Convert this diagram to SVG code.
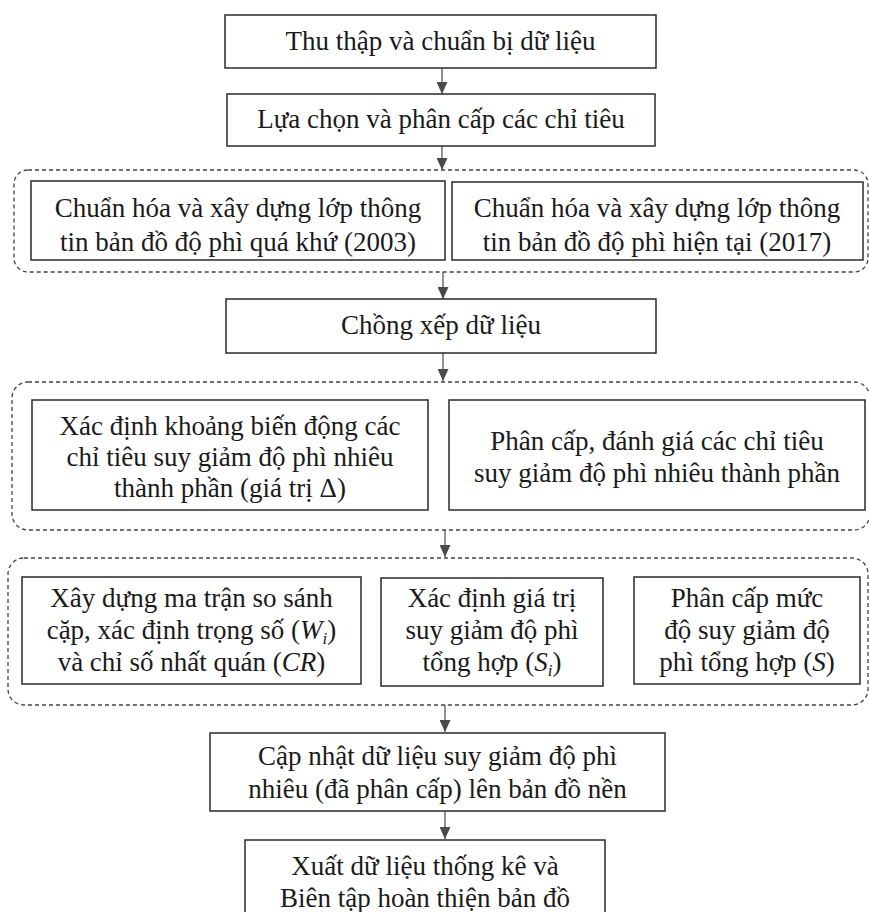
<svg xmlns="http://www.w3.org/2000/svg" width="869" height="912" viewBox="0 0 869 912">
<style>
.box{fill:#fff;stroke:#2a2a2a;stroke-width:1.5}
.grp{fill:none;stroke:#444;stroke-width:1.3;stroke-dasharray:4 3}
.t{font-family:"Liberation Serif","Times New Roman",serif;font-size:27px;fill:#1a1a1a;text-anchor:middle}
.it{font-style:italic}
.sub{font-size:17px;font-style:italic}
.ln{stroke:#4a4a4a;stroke-width:1.2;fill:none}
</style>
<defs>
<marker id="ah" viewBox="0 0 12 11" refX="12" refY="5.5" markerWidth="12" markerHeight="11" markerUnits="userSpaceOnUse" orient="auto">
<path d="M0,0 L12,5.5 L0,11 Z" fill="#4a4a4a"/>
</marker>
</defs>
<rect width="869" height="912" fill="#fff"/>
<g id="groups">
<rect id="g1" class="grp" x="14" y="170" width="854" height="102" rx="14"/>
<rect id="g2" class="grp" x="12" y="382" width="858" height="148" rx="16"/>
<rect id="g3" class="grp" x="8" y="558" width="860" height="147" rx="16"/>
</g>
<g id="connectors">
<line class="ln" x1="442" y1="68" x2="442" y2="94" marker-end="url(#ah)"/>
<line class="ln" x1="442" y1="146" x2="442" y2="170" marker-end="url(#ah)"/>
<line class="ln" x1="443" y1="272" x2="443" y2="299" marker-end="url(#ah)"/>
<line class="ln" x1="443" y1="353" x2="443" y2="381" marker-end="url(#ah)"/>
<line class="ln" x1="445" y1="530" x2="445" y2="557" marker-end="url(#ah)"/>
<line class="ln" x1="445" y1="705" x2="445" y2="732" marker-end="url(#ah)"/>
<line class="ln" x1="445" y1="811" x2="445" y2="839" marker-end="url(#ah)"/>
</g>
<g id="n1"><rect class="box" x="225" y="15" width="431" height="53"/>
<text class="t" x="440.5" y="50">Thu thập và chuẩn bị dữ liệu</text></g>
<g id="n2"><rect class="box" x="227" y="94" width="428" height="52"/>
<text class="t" x="441" y="128">Lựa chọn và phân cấp các chỉ tiêu</text></g>
<g id="n3"><rect class="box" x="31" y="181" width="414" height="79"/>
<text class="t" x="238" y="217">Chuẩn hóa và xây dựng lớp thông</text>
<text class="t" x="238" y="251">tin bản đồ độ phì quá khứ (2003)</text></g>
<g id="n4"><rect class="box" x="452" y="182" width="411" height="78"/>
<text class="t" x="657" y="217">Chuẩn hóa và xây dựng lớp thông</text>
<text class="t" x="657" y="251">tin bản đồ độ phì hiện tại (2017)</text></g>
<g id="n5"><rect class="box" x="226" y="299" width="430" height="54"/>
<text class="t" x="441" y="334">Chồng xếp dữ liệu</text></g>
<g id="n6"><rect class="box" x="32" y="400" width="396" height="110"/>
<text class="t" x="230" y="435">Xác định khoảng biến động các</text>
<text class="t" x="230" y="466">chỉ tiêu suy giảm độ phì nhiêu</text>
<text class="t" x="230" y="497">thành phần (giá trị Δ)</text></g>
<g id="n7"><rect class="box" x="449" y="400" width="416" height="110"/>
<text class="t" x="657" y="450">Phân cấp, đánh giá các chỉ tiêu</text>
<text class="t" x="657" y="482">suy giảm độ phì nhiêu thành phần</text></g>
<g id="n8"><rect class="box" x="22" y="577" width="339" height="107"/>
<text class="t" x="191.5" y="607">Xây dựng ma trận so sánh</text>
<text class="t" x="191.5" y="639">cặp, xác định trọng số (<tspan class="it">W</tspan><tspan class="sub" dy="5">i</tspan><tspan dy="-5">)</tspan></text>
<text class="t" x="191.5" y="671">và chỉ số nhất quán (<tspan class="it">CR</tspan>)</text></g>
<g id="n9"><rect class="box" x="381" y="578" width="222" height="108"/>
<text class="t" x="492" y="607">Xác định giá trị</text>
<text class="t" x="492" y="639">suy giảm độ phì</text>
<text class="t" x="492" y="671">tổng hợp (<tspan class="it">S</tspan><tspan class="sub" dy="5">i</tspan><tspan dy="-5">)</tspan></text></g>
<g id="n10"><rect class="box" x="634" y="577" width="226" height="107"/>
<text class="t" x="747" y="607">Phân cấp mức</text>
<text class="t" x="747" y="639">độ suy giảm độ</text>
<text class="t" x="747" y="671">phì tổng hợp (<tspan class="it">S</tspan>)</text></g>
<g id="n11"><rect class="box" x="210" y="733" width="455" height="78"/>
<text class="t" x="437.5" y="765">Cập nhật dữ liệu suy giảm độ phì</text>
<text class="t" x="437.5" y="798">nhiêu (đã phân cấp) lên bản đồ nền</text></g>
<g id="n12"><rect class="box" x="245" y="840" width="360" height="80"/>
<text class="t" x="425" y="875">Xuất dữ liệu thống kê và</text>
<text class="t" x="425" y="907">Biên tập hoàn thiện bản đồ</text></g>
</svg>
